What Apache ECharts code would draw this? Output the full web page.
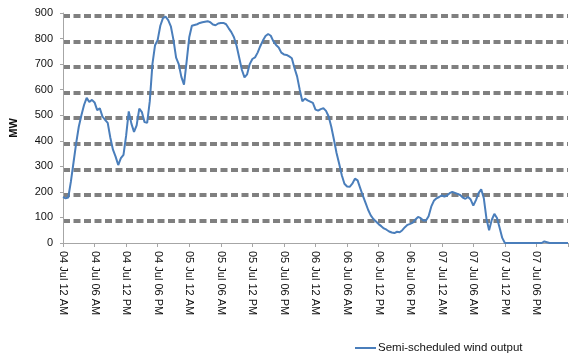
<!DOCTYPE html>
<html>
<head>
<meta charset="utf-8">
<script src="https://cdn.jsdelivr.net/npm/echarts@6/dist/echarts.min.js"></script>
<style>
html,body{margin:0;padding:0;background:#fff;}
#chart{width:575px;height:356px;}
</style>
</head>
<body>
<div id="chart"></div>
<script>
// Half-hourly values (MW) from 04 Jul 00:00 to 08 Jul 00:00
var windOutput = [
180,175,178,240,315,390,455,500,540,568,552,560,550,520,527,495,482,470,412,365,
338,305,332,345,420,515,467,435,460,526,512,473,470,555,700,774,795,850,880,886,
872,848,795,725,700,650,620,710,805,850,853,856,861,864,866,868,864,855,852,859,
861,861,856,840,825,805,772,725,678,648,660,700,720,726,745,770,792,810,818,811,
789,775,765,745,738,736,730,723,685,652,600,555,565,558,553,548,522,518,524,527,
517,495,455,405,352,310,265,232,221,220,232,252,245,215,185,158,130,108,94,84,
74,66,57,52,45,41,39,44,42,50,62,71,75,80,92,102,97,88,88,105,
142,165,175,180,186,182,186,195,200,196,192,188,178,173,180,170,146,168,195,210,
175,95,50,90,114,98,60,20,0,0,0,0,0,0,0,0,0,0,0,0,
0,0,0,6,3,0,0,0,0,0,0,0,0
];
var tickLabels = [
'04 Jul 12 AM','04 Jul 06 AM','04 Jul 12 PM','04 Jul 06 PM',
'05 Jul 12 AM','05 Jul 06 AM','05 Jul 12 PM','05 Jul 06 PM',
'06 Jul 12 AM','06 Jul 06 AM','06 Jul 12 PM','06 Jul 06 PM',
'07 Jul 12 AM','07 Jul 06 AM','07 Jul 12 PM','07 Jul 06 PM'
];
var seriesName = 'Semi-scheduled wind output';
var categories = [];
for (var i = 0; i < windOutput.length; i++) { categories.push(String(i)); }

var font = "'Liberation Sans', Arial, sans-serif";
var chart = echarts.init(document.getElementById('chart'), null, {renderer:'canvas'});
chart.setOption({
  animation: false,
  textStyle: {fontFamily: font},
  grid: [
    {left: 63, right: 7, top: 13, bottom: 113, containLabel: false},
    {left: 63, right: 7, top: 16, bottom: 110, containLabel: false}
  ],
  legend: {
    data: [{name: seriesName, icon: 'rect', itemStyle: {color: '#4A7EBB'}}],
    left: 350, top: 337,
    itemWidth: 21, itemHeight: 2, itemGap: 2,
    textStyle: {fontFamily: font, fontSize: 11.5, color: '#111', padding: [0,0,0,-3]}
  },
  xAxis: [
    {
      type: 'category', gridIndex: 0, data: categories, boundaryGap: false,
      axisLine: {lineStyle: {color: '#a6a6a6', width: 1}},
      axisTick: {show: true, interval: 11, length: 4, lineStyle: {color: '#a6a6a6'}},
      axisLabel: {
        interval: function (idx) { return idx % 12 === 0 && idx / 12 < tickLabels.length; },
        formatter: function (val, idx) { return tickLabels[idx / 12] || ''; },
        rotate: -90, margin: 8, fontSize: 11, color: '#111', fontFamily: font
      },
      splitLine: {show: false}
    },
    {type: 'category', gridIndex: 1, data: categories, boundaryGap: false, show: false}
  ],
  yAxis: [
    {
      type: 'value', gridIndex: 0, min: 0, max: 900, interval: 100,
      name: 'MW', nameLocation: 'middle', nameGap: 44, nameRotate: 90,
      nameTextStyle: {fontWeight: 'bold', fontSize: 11, color: '#111', fontFamily: font},
      axisLine: {show: true, lineStyle: {color: '#a6a6a6', width: 1}},
      axisTick: {show: true, length: 3, lineStyle: {color: '#a6a6a6'}},
      axisLabel: {fontSize: 11, color: '#111', margin: 10, fontFamily: font},
      splitLine: {show: false}
    },
    {
      type: 'value', gridIndex: 1, min: 0, max: 900, interval: 100,
      axisLine: {show: false}, axisTick: {show: false}, axisLabel: {show: false},
      splitLine: {show: true, showMinLine: false, lineStyle: {color: '#808080', width: 4, type: [7, 3.5]}}
    }
  ],
  series: [{
    name: seriesName, type: 'line', xAxisIndex: 0, yAxisIndex: 0,
    data: windOutput, symbol: 'none', smooth: false, z: 5,
    lineStyle: {color: '#4A7EBB', width: 2},
    itemStyle: {color: '#4A7EBB'}
  }]
});
</script>
</body>
</html>
